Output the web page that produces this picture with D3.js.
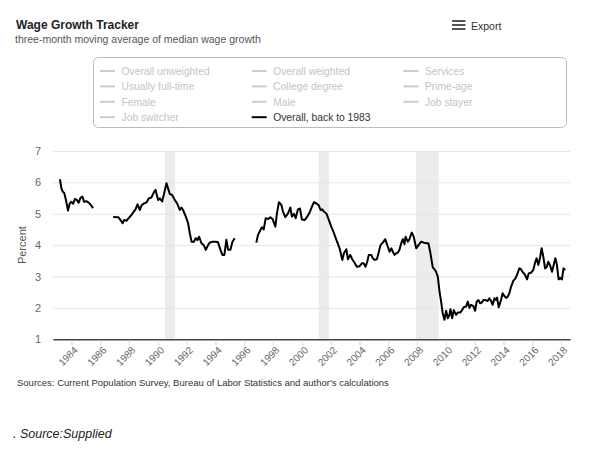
<!DOCTYPE html>
<html>
<head>
<meta charset="utf-8">
<script src="https://cdn.jsdelivr.net/npm/d3@7"></script>
<style>
  body { margin: 0; background: #fff; }
  svg { display: block; font-family: "Liberation Sans", Arial, Helvetica, sans-serif; }
</style>
</head>
<body>
<svg id="chart" width="600" height="457"></svg>
<script>
// ---- data (decimal years, percent); null marks a gap in the series ----
const years = [
  1983.20,1983.30,1983.40,1983.50,1983.62,1983.76,1983.88,1984.00,1984.12,1984.24,1984.36,1984.50,1984.62,1984.76,1984.88,1985.04,1985.22,1985.38,1985.50,
  1986.20,
  1986.90,1987.25,1987.41,1987.55,1987.66,1987.83,1987.99,1988.17,1988.33,1988.45,1988.59,1988.75,1988.87,1989.05,1989.21,1989.37,1989.56,1989.74,1989.84,
  1990.02,1990.14,1990.30,1990.41,1990.60,1990.71,1990.83,1990.99,1991.18,1991.34,1991.52,1991.64,1991.75,1991.94,1992.10,1992.22,1992.34,1992.50,1992.63,
  1992.75,1992.86,1993.03,1993.19,1993.33,1993.49,1993.60,1993.79,1994.02,1994.18,1994.35,1994.48,1994.62,1994.76,1994.88,1995.04,1995.18,1995.34,
  1996.00,
  1996.84,1996.95,1997.12,1997.23,1997.35,1997.49,1997.65,1997.81,1997.97,1998.16,1998.27,1998.41,1998.58,1998.69,1998.85,1999.04,1999.20,1999.31,1999.45,
  1999.57,1999.73,1999.87,2000.00,2000.19,2000.35,2000.54,2000.70,2000.84,2001.00,2001.16,2001.30,2001.42,2001.53,2001.70,2001.86,2002.04,2002.23,2002.40,
  2002.62,2002.81,2002.92,2003.09,2003.20,2003.36,2003.50,2003.66,2003.82,2004.01,2004.17,2004.30,2004.42,2004.54,2004.65,2004.82,2004.93,2005.05,2005.21,
  2005.32,2005.46,2005.62,2005.79,2005.93,2006.09,2006.21,2006.32,2006.43,2006.55,2006.66,2006.78,2006.90,2007.01,2007.13,2007.20,2007.36,2007.47,2007.63,
  2007.77,2007.94,2008.10,2008.29,2008.47,2008.64,2008.79,2008.93,2009.09,2009.21,2009.32,2009.44,2009.56,2009.67,2009.78,2009.90,2010.02,2010.13,2010.25,
  2010.32,2010.44,2010.55,2010.71,2010.82,2010.99,2011.13,2011.24,2011.41,2011.52,2011.64,2011.75,2011.91,2012.03,2012.14,2012.26,2012.38,2012.49,2012.61,
  2012.74,2012.90,2013.02,2013.14,2013.25,2013.37,2013.49,2013.56,2013.67,2013.83,2013.94,2014.06,2014.18,2014.30,2014.41,2014.53,2014.69,2014.80,2014.94,
  2015.10,2015.20,2015.33,2015.50,2015.64,2015.75,2015.91,2016.07,2016.21,2016.30,2016.42,2016.54,2016.65,2016.76,2016.89,2017.00,2017.11,2017.25,2017.37,
  2017.48,2017.60,2017.70,2017.83,2017.95,2018.06,2018.17,2018.29
];
const wageGrowth = [
  6.10,5.82,5.70,5.66,5.44,5.10,5.33,5.38,5.32,5.47,5.45,5.35,5.50,5.55,5.38,5.40,5.35,5.26,5.18,
  null,
  4.90,4.89,4.80,4.70,4.80,4.78,4.87,4.96,5.07,5.14,5.30,5.12,5.27,5.33,5.36,5.49,5.52,5.70,5.76,
  5.44,5.49,5.39,5.60,5.97,5.81,5.63,5.60,5.44,5.33,5.12,5.20,5.12,4.91,4.70,4.38,4.11,4.11,4.22,
  4.16,4.27,4.06,4.00,3.85,4.00,4.08,4.11,4.11,4.09,3.85,3.69,3.69,4.17,3.85,3.85,4.11,4.22,
  null,
  4.08,4.32,4.48,4.57,4.50,4.86,4.83,4.89,4.83,4.59,5.01,5.37,5.28,5.07,4.89,5.01,5.20,4.91,5.00,
  4.86,5.14,5.17,4.82,4.80,4.89,5.04,5.23,5.37,5.33,5.28,5.12,5.14,5.07,5.01,4.82,4.59,4.38,4.17,
  3.90,3.53,3.74,3.87,3.55,3.69,3.55,3.44,3.31,3.33,3.42,3.42,3.31,3.47,3.69,3.69,3.58,3.53,3.55,
  3.74,4.00,4.08,4.19,4.00,3.79,3.90,3.79,3.69,3.74,3.76,3.85,4.06,4.19,4.03,4.27,4.11,4.19,4.40,
  4.27,3.90,4.00,4.11,4.08,4.06,4.06,3.74,3.29,3.23,3.15,3.00,2.52,2.20,1.83,1.62,1.91,1.67,1.78,
  1.96,1.67,1.93,1.78,1.85,1.85,1.93,2.02,2.05,2.20,2.00,2.10,2.06,1.91,2.20,2.25,2.15,2.17,2.25,
  2.25,2.22,2.31,2.22,2.10,2.31,2.25,2.33,2.02,2.25,2.47,2.38,2.32,2.36,2.47,2.68,2.87,2.92,3.05,
  3.26,3.24,3.15,3.05,2.91,3.10,3.12,3.21,3.47,3.58,3.37,3.60,3.90,3.65,3.26,3.30,3.47,3.34,3.15,
  3.35,3.58,3.40,2.91,2.95,2.91,3.26,3.21
];
const recessionStart = [1990.50, 2001.17, 2007.92];
const recessionEnd   = [1991.20, 2001.88, 2009.50];
const xTickYears = [1984,1986,1988,1990,1992,1994,1996,1998,2000,2002,2004,2006,2008,2010,2012,2014,2016,2018];
const yTicks = [1,2,3,4,5,6,7];
const legendItems = [
  "Overall unweighted","Overall weighted","Services",
  "Usually full-time","College degree","Prime-age",
  "Female","Male","Job stayer",
  "Job switcher","Overall, back to 1983"
];
const activeSeries = "Overall, back to 1983";

// ---- layout ----
const svg = d3.select("#chart");
const plot = { left: 53, right: 570, top: 151, bottom: 339.3 };

const x = d3.scaleLinear().domain([1982.72, 2018.62]).range([plot.left, plot.right]);
const y = d3.scaleLinear().domain([1, 7]).range([plot.bottom, plot.top]);

// title / subtitle
svg.append("text").attr("x", 16).attr("y", 28.5)
  .attr("font-size", 12).attr("font-weight", "bold").attr("fill", "#222")
  .text("Wage Growth Tracker");
svg.append("text").attr("x", 15).attr("y", 42.5)
  .attr("font-size", 10.5).attr("fill", "#555")
  .text("three-month moving average of median wage growth");

// export button
const exp = svg.append("g");
[21, 25, 29].forEach(yy => exp.append("line")
  .attr("x1", 452).attr("x2", 465.5).attr("y1", yy).attr("y2", yy)
  .attr("stroke", "#555").attr("stroke-width", 2));
exp.append("text").attr("x", 471).attr("y", 29.5)
  .attr("font-size", 10.5).attr("fill", "#333").text("Export");

// legend
svg.append("rect").attr("x", 93.5).attr("y", 57.5).attr("width", 473).attr("height", 70)
  .attr("rx", 5).attr("fill", "#fff").attr("stroke", "#bbb").attr("stroke-width", 1);
const lg = svg.append("g").attr("font-size", 10.3);
legendItems.forEach((name, i) => {
  const col = i % 3, row = Math.floor(i / 3);
  const lx = 100 + col * 151.7, ly = 71 + row * 15.4;
  const active = name === activeSeries;
  lg.append("line").attr("x1", lx).attr("x2", lx + 15).attr("y1", ly).attr("y2", ly)
    .attr("stroke", active ? "#000" : "#ccc").attr("stroke-width", 2);
  lg.append("text").attr("x", lx + 21.5).attr("y", ly + 3.8)
    .attr("fill", active ? "#333" : "#c4c4c4").text(name);
});

// recession bands
svg.append("g").selectAll("rect").data(recessionStart).join("rect")
  .attr("x", (d) => x(d))
  .attr("width", (d, i) => x(recessionEnd[i]) - x(d))
  .attr("y", plot.top).attr("height", plot.bottom - plot.top)
  .attr("fill", "#ececec");

// y gridlines + labels
const yAxis = d3.axisLeft(y).tickValues(yTicks).tickFormat(d3.format("d"))
  .tickSize(-(plot.right - plot.left)).tickPadding(12);
const gy = svg.append("g").attr("transform", `translate(${plot.left},0)`).call(yAxis);
gy.select(".domain").remove();
gy.selectAll(".tick line").attr("stroke", "#e6e6e6");
gy.selectAll(".tick").filter(d => d === 1).select("line").remove();
gy.selectAll(".tick text").attr("fill", "#666").attr("font-size", 11)
  .attr("font-family", "Liberation Sans, Arial, sans-serif");

svg.append("text")
  .attr("transform", `translate(25.5,${(plot.top + plot.bottom) / 2}) rotate(-90)`)
  .attr("text-anchor", "middle").attr("font-size", 11).attr("fill", "#555").text("Percent");

// x axis
const xAxis = d3.axisBottom(x).tickValues(xTickYears).tickFormat(d3.format("d")).tickSize(5).tickSizeOuter(0);
const gx = svg.append("g").attr("transform", `translate(0,${plot.bottom})`).call(xAxis);
gx.select(".domain").attr("stroke", "#444").attr("stroke-width", 1.5);
gx.selectAll(".tick line").attr("stroke", "#ccd6eb").attr("transform", "translate(0,1)");
gx.selectAll(".tick text")
  .attr("font-size", 10).attr("fill", "#666").attr("font-family", "Liberation Sans, Arial, sans-serif")
  .attr("text-anchor", "end")
  .attr("transform", "translate(4,9) rotate(-45)")
  .attr("dy", "0.35em").attr("y", 0).attr("x", 0);

// line
const pts = years.map((yr, i) => ({ yr, v: wageGrowth[i] }));
const line = d3.line().defined(d => d.v !== null).x(d => x(d.yr)).y(d => y(d.v));
svg.append("path").datum(pts).attr("d", line)
  .attr("fill", "none").attr("stroke", "#000").attr("stroke-width", 2).attr("stroke-linejoin", "round");

// sources
svg.append("text").attr("x", 17).attr("y", 385.5)
  .attr("font-size", 9.5).attr("fill", "#333")
  .text("Sources: Current Population Survey, Bureau of Labor Statistics and author's calculations");
svg.append("text").attr("x", 13).attr("y", 438)
  .attr("font-size", 12.5).attr("font-style", "italic").attr("fill", "#222")
  .text(". Source:Supplied");
</script>
</body>
</html>
